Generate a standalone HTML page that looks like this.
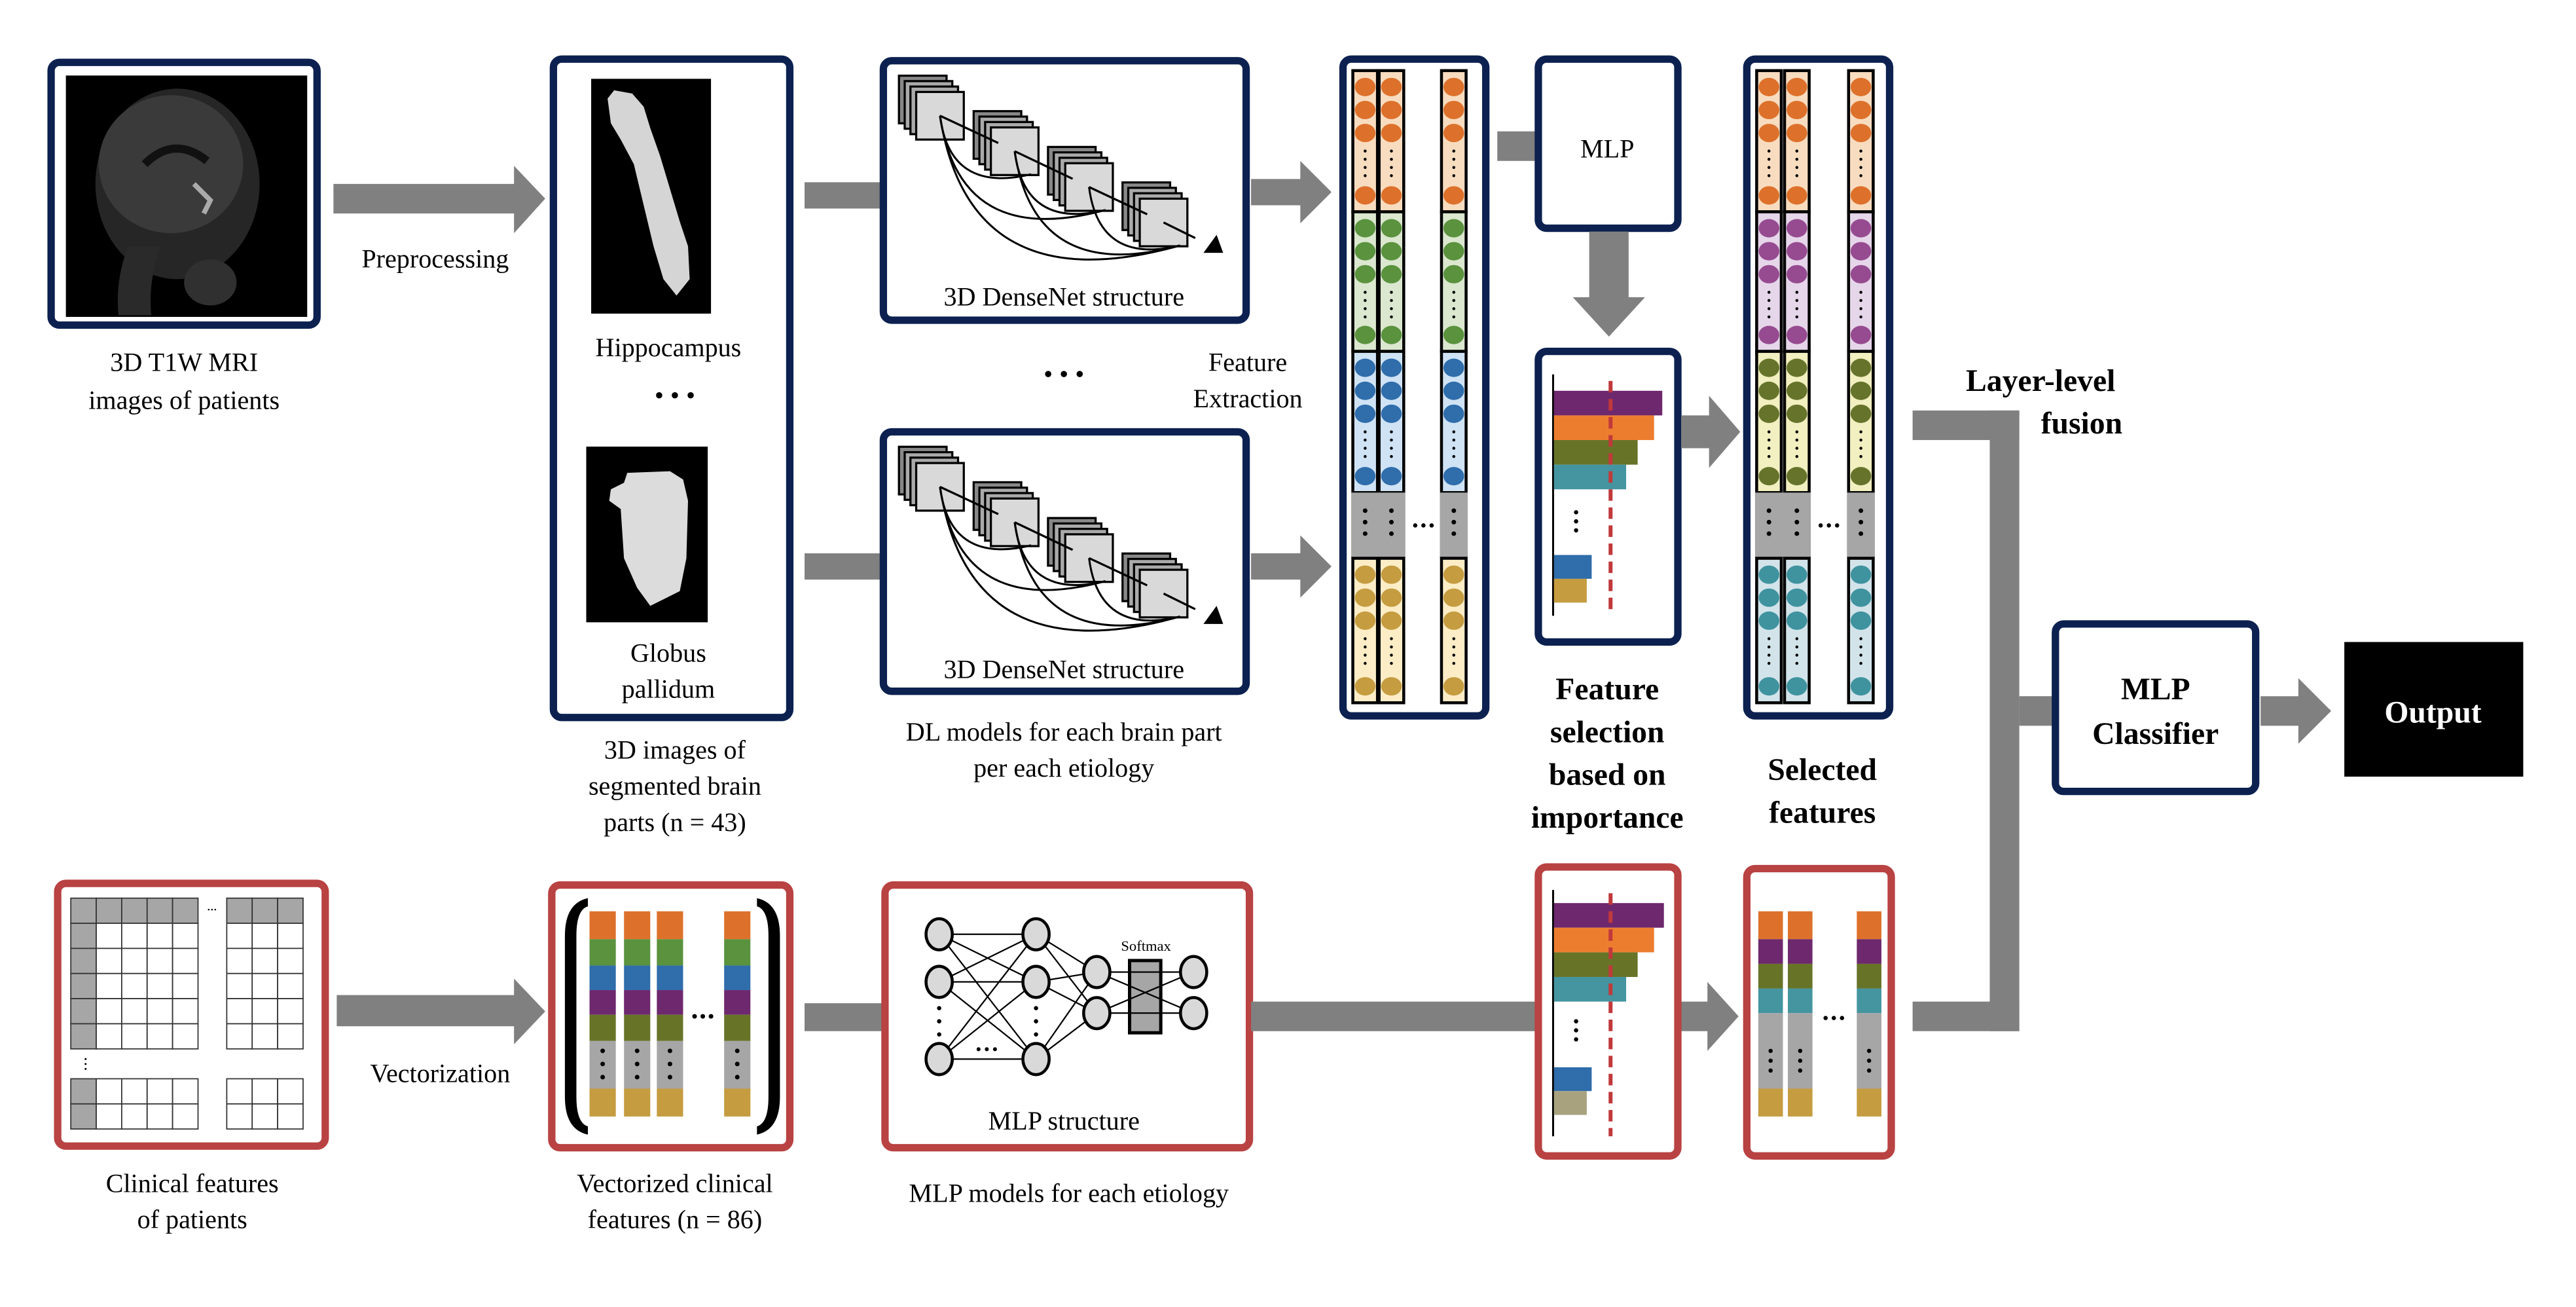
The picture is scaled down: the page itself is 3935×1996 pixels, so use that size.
<!DOCTYPE html>
<html><head><meta charset="utf-8"><style>
html,body{margin:0;padding:0;background:#fff;}
svg{display:block;}
svg text{font-family:"Liberation Serif","Times New Roman","DejaVu Serif",serif;fill:#000;}
.b{font-weight:bold;}
</style></head><body>
<svg id="s" width="3935" height="1996" viewBox="0 0 1569 796" font-family="Liberation Serif, serif" xmlns="http://www.w3.org/2000/svg">
<rect width="1569" height="796" fill="#fff"/>
<!-- MRI box -->
<rect x="31" y="38" width="162" height="160" rx="5" fill="#fff" stroke="#0c2150" stroke-width="4.5"/>
<rect x="40" y="46" width="147" height="147" fill="#000"/>
<ellipse cx="108" cy="112" rx="50" ry="58" fill="#262626"/>
<ellipse cx="104" cy="100" rx="44" ry="42" fill="#3a3a3a"/>
<ellipse cx="128" cy="172" rx="16" ry="14" fill="#303030"/>
<path d="M78 150 Q70 170 72 192 L92 192 Q90 170 98 150Z" fill="#2a2a2a"/>
<path d="M88 100 Q106 82 126 98" stroke="#111" stroke-width="5" fill="none"/>
<path d="M118 112 L128 122 L124 130" stroke="#aaa" stroke-width="3" fill="none"/>
<!-- preprocessing arrow -->
<path d="M203 112 H313 V101 L332 121 L313 142 V130 H203Z" fill="#808080"/>
<text x="265" y="163" font-size="16" text-anchor="middle">Preprocessing</text>
<text x="112" y="226" font-size="16" text-anchor="middle">3D T1W MRI</text>
<text x="112" y="249" font-size="16" text-anchor="middle">images of patients</text>
<!-- segmented -->
<rect x="337" y="36" width="144" height="401" rx="5" fill="#fff" stroke="#0c2150" stroke-width="4.5"/>
<rect x="360" y="48" width="73" height="143" fill="#000"/>
<path d="M370 60 L374 55 L385 57 L392 65 L396 78 L402 95 L408 115 L414 135 L419 150 L420 170 L412 180 L404 170 L398 150 L392 125 L386 100 L378 85 L372 75 Z" fill="#d5d5d5"/>
<text x="407" y="217" font-size="16" text-anchor="middle">Hippocampus</text>
<text x="411" y="246" font-size="16" text-anchor="middle">• • •</text>
<rect x="357" y="272" width="74" height="107" fill="#000"/>
<path d="M372 298 L380 294 L382 288 L408 287 L416 292 L419 305 L418 340 L414 360 L396 369 L388 358 L380 340 L378 310 L371 305 Z" fill="#dcdcdc"/>
<text x="407" y="403" font-size="16" text-anchor="middle">Globus</text>
<text x="407" y="425" font-size="16" text-anchor="middle">pallidum</text>
<text x="411" y="462" font-size="16" text-anchor="middle">3D images of</text>
<text x="411" y="484" font-size="16" text-anchor="middle">segmented brain</text>
<text x="411" y="506" font-size="16" text-anchor="middle">parts (n = 43)</text>
<rect x="490" y="111" width="47" height="16" fill="#808080"/>
<rect x="490" y="337" width="47" height="16" fill="#808080"/>
<g id="dn1"></g>
<text x="648" y="186" font-size="16" text-anchor="middle">3D DenseNet structure</text>
<text x="648" y="413" font-size="16" text-anchor="middle">3D DenseNet structure</text>
<text x="648" y="233" font-size="16" text-anchor="middle">• • •</text>
<text x="760" y="226" font-size="16" text-anchor="middle">Feature</text>
<text x="760" y="248" font-size="16" text-anchor="middle">Extraction</text>
<text x="648" y="451" font-size="16" text-anchor="middle">DL models for each brain part</text>
<text x="648" y="473" font-size="16" text-anchor="middle">per each etiology</text>
<path d="M762 109 H792 V98 L811 117 L792 136 V125 H762Z" fill="#808080"/>
<path d="M762 337 H792 V326 L811 345 L792 364 V353 H762Z" fill="#808080"/>
<rect x="818" y="36" width="87" height="400" rx="5" fill="#fff" stroke="#0c2150" stroke-width="4.5"/>
<rect x="912" y="80" width="26" height="18" fill="#808080"/>
<rect x="937" y="36" width="85" height="103" rx="5" fill="#fff" stroke="#0c2150" stroke-width="4.5"/>
<text x="979" y="96" font-size="16" text-anchor="middle">MLP</text>
<path d="M968 141 H992 V181 H1002 L980 205 L958 181 H968Z" fill="#808080"/>
<rect x="937" y="214" width="85" height="177" rx="5" fill="#fff" stroke="#0c2150" stroke-width="4.5"/>
<path d="M1024 253 H1041 V241 L1060 263 L1041 285 V273 H1024Z" fill="#808080"/>
<text x="979" y="426" font-size="19" class="b" text-anchor="middle">Feature</text>
<text x="979" y="452" font-size="19" class="b" text-anchor="middle">selection</text>
<text x="979" y="478" font-size="19" class="b" text-anchor="middle">based on</text>
<text x="979" y="504" font-size="19" class="b" text-anchor="middle">importance</text>
<rect x="1064" y="36" width="87" height="400" rx="5" fill="#fff" stroke="#0c2150" stroke-width="4.5"/>
<text x="1110" y="475" font-size="19" class="b" text-anchor="middle">Selected</text>
<text x="1110" y="501" font-size="19" class="b" text-anchor="middle">features</text>
<text x="1243" y="238" font-size="19" class="b" text-anchor="middle">Layer-level</text>
<text x="1268" y="264" font-size="19" class="b" text-anchor="middle">fusion</text>
<rect x="1165" y="250" width="65" height="18" fill="#808080"/>
<rect x="1165" y="610" width="65" height="18" fill="#808080"/>
<rect x="1212" y="250" width="18" height="378" fill="#808080"/>
<rect x="1230" y="424" width="22" height="18" fill="#808080"/>
<rect x="1252" y="380" width="122" height="102" rx="5" fill="#fff" stroke="#0c2150" stroke-width="4.5"/>
<text x="1313" y="426" font-size="19" class="b" text-anchor="middle">MLP</text>
<text x="1313" y="453" font-size="19" class="b" text-anchor="middle">Classifier</text>
<path d="M1377 424 H1400 V413 L1420 433 L1400 453 V442 H1377Z" fill="#808080"/>
<rect x="1428" y="391" width="109" height="82" fill="#000"/>
<text x="1482" y="440" font-size="19" class="b" text-anchor="middle" style="fill:#fff">Output</text>
<rect x="35" y="538" width="163" height="160" rx="5" fill="#fff" stroke="#b94242" stroke-width="4.5"/>
<g id="tbl"></g>
<path d="M205 606 H313 V596 L332 616 L313 636 V625 H205Z" fill="#808080"/>
<text x="268" y="659" font-size="16" text-anchor="middle">Vectorization</text>
<text x="117" y="726" font-size="16" text-anchor="middle">Clinical features</text>
<text x="117" y="748" font-size="16" text-anchor="middle">of patients</text>
<rect x="336" y="539" width="145" height="160" rx="5" fill="#fff" stroke="#b94242" stroke-width="4.5"/>
<g id="vec"></g>
<text x="411" y="726" font-size="16" text-anchor="middle">Vectorized clinical</text>
<text x="411" y="748" font-size="16" text-anchor="middle">features (n = 86)</text>
<rect x="490" y="611" width="47" height="17" fill="#808080"/>
<rect x="539" y="539" width="222" height="160" rx="5" fill="#fff" stroke="#b94242" stroke-width="4.5"/>
<g id="mlp"></g>
<text x="648" y="688" font-size="16" text-anchor="middle">MLP structure</text>
<text x="651" y="732" font-size="16" text-anchor="middle">MLP models for each etiology</text>
<path d="M762 610 H1040 V598 L1059 619 L1040 640 V628 H762Z" fill="#808080"/>
<rect x="937" y="528" width="85" height="176" rx="5" fill="#fff" stroke="#b94242" stroke-width="4.5"/>
<rect x="1064" y="529" width="88" height="175" rx="5" fill="#fff" stroke="#b94242" stroke-width="4.5"/>
<g id="g2"></g>
</svg>
<script>
var NS="http://www.w3.org/2000/svg";
function el(p,t,a){var e=document.createElementNS(NS,t);for(var k in a)e.setAttribute(k,a[k]);p.appendChild(e);return e;}
var G=document.getElementById('g2');
function dots(x,y,gap,r,n,c){for(var i=0;i<n;i++)el(G,'circle',{cx:x,cy:y+i*gap,r:r,fill:c||'#000'});}
function featCol(xs,w,secs){
  secs.forEach(function(s){
    if(s.gray){
      el(G,'rect',{x:xs[0]-1,y:s.y0,width:xs[1]+w-xs[0]+2,height:s.y1-s.y0,fill:'#a6a6a6'});
      el(G,'rect',{x:xs[2]-1,y:s.y0,width:w+2,height:s.y1-s.y0,fill:'#a6a6a6'});
      xs.forEach(function(x){dots(x+w/2,s.y0+11,7,1.4,3);});
      dots(xs[1]+w+7,(s.y0+s.y1)/2,0,1.3,1);dots(xs[1]+w+12,(s.y0+s.y1)/2,0,1.3,1);dots(xs[1]+w+17,(s.y0+s.y1)/2,0,1.3,1);
      return;}
    xs.forEach(function(x){
      el(G,'rect',{x:x,y:s.y0,width:w,height:s.y1-s.y0,fill:s.bg,stroke:'#000','stroke-width':1.8});
      var cx=x+w/2;
      [10,24,38].forEach(function(d){el(G,'ellipse',{cx:cx,cy:s.y0+d,rx:6.3,ry:5.6,fill:s.c});});
      el(G,'ellipse',{cx:cx,cy:s.y1-10,rx:6.3,ry:5.6,fill:s.c});
      dots(cx,s.y0+49,5,0.9,4);
    });
  });
}
featCol([824,840,878],15,[{y0:43,y1:129,bg:'#f8dcc0',c:'#dd712b'},{y0:129,y1:214,bg:'#dbe7cf',c:'#5a923e'},{y0:214,y1:300,bg:'#cfe3f5',c:'#2f6dab'},{gray:1,y0:300,y1:340},{y0:340,y1:428,bg:'#fcedc6',c:'#c59c40'}]);
featCol([1070,1087,1126],15,[{y0:43,y1:129,bg:'#f8dcc0',c:'#dd712b'},{y0:129,y1:214,bg:'#e6d6ea',c:'#964b90'},{y0:214,y1:300,bg:'#f2efc0',c:'#66742b'},{gray:1,y0:300,y1:340},{y0:340,y1:428,bg:'#d2e4ea',c:'#3f939f'}]);
function imp(y0,bars,lo,hi,axTop,axBot,dotY,dash0,dash1){
  el(G,'line',{x1:946,y1:axTop,x2:946,y2:axBot,stroke:'#000','stroke-width':1.2});
  var y=y0;bars.forEach(function(b){el(G,'rect',{x:946.5,y:y,width:b[0],height:15,fill:b[1]});y+=15;});
  var y2=lo;hi.forEach(function(b){el(G,'rect',{x:946.5,y:y2,width:b[0],height:14.5,fill:b[1]});y2+=14.5;});
  dots(960,dotY,5.5,1.3,3);
  el(G,'line',{x1:981,y1:dash0,x2:981,y2:dash1,stroke:'#c0393b','stroke-width':2.4,'stroke-dasharray':'7,4'});
}
imp(238,[[66,'#6e286e'],[61,'#ec7d2f'],[51,'#677428'],[44,'#4495a0']],338,[[23,'#2f6dab'],[20,'#c59c40']],228,375,312,232,372);
imp(550,[[67,'#6e286e'],[61,'#ec7d2f'],[51,'#677428'],[44,'#4495a0']],650,[[23,'#2f6dab'],[20,'#a8a37e']],542,692,622,544,692);
[1071,1089,1131].forEach(function(x){
  var cols=[['#dd712b',17],['#6e286e',15],['#677428',15],['#4495a0',15],['#a6a6a6',46],['#c59c40',17]];var y=555;
  cols.forEach(function(c){el(G,'rect',{x:x,y:y,width:15,height:c[1],fill:c[0]});y+=c[1];});
  dots(x+7.5,640,6,1.3,3);
});
dots(1112,620,0,1.3,1);dots(1117,620,0,1.3,1);dots(1122,620,0,1.3,1);
var V=document.getElementById('vec');
[359,380,400,441].forEach(function(x){
  var cols=[['#dd712b',17],['#5a923e',16],['#2f6dab',15],['#6e286e',15],['#677428',16],['#a6a6a6',29],['#c59c40',17]];var y=555;
  cols.forEach(function(c){el(V,'rect',{x:x,y:y,width:16,height:c[1],fill:c[0]});y+=c[1];});
  for(var i=0;i<3;i++)el(V,'circle',{cx:x+8,cy:640+i*8,r:1.4,fill:'#000'});
});
[423,428,433].forEach(function(x){el(V,'circle',{cx:x,cy:619,r:1.4,fill:'#000'});});
el(V,'path',{d:'M358 547 Q344 550 344 570 V668 Q344 688 358 691 L358 686 Q351 684 351 668 V570 Q351 554 358 552 Z',fill:'#000'});
el(V,'path',{d:'M461 547 Q475 550 475 570 V668 Q475 688 461 691 L461 686 Q468 684 468 668 V570 Q468 554 461 552 Z',fill:'#000'});
var T=document.getElementById('tbl');
function block(x0,ncol,y0,rows,hdr,firstGray){
  var cw=15.5,rh=15.3;
  for(var r=0;r<rows;r++)for(var c=0;c<ncol;c++){
    var gray=(hdr&&r==0)||(firstGray&&c==0);
    el(T,'rect',{x:x0+c*cw,y:y0+r*rh,width:cw,height:rh,fill:gray?'#a6a6a6':'#fff',stroke:'#333','stroke-width':0.7});
  }
}
block(43,5,547,6,true,true);block(138,3,547,6,true,false);
block(43,5,657,2,false,true);block(138,3,657,2,false,false);
[645,648,651].forEach(function(y){el(T,'circle',{cx:52,cy:y,r:0.6,fill:'#000'});});
[127,129,131].forEach(function(x){el(T,'circle',{cx:x,cy:554,r:0.5,fill:'#000'});});
var M=document.getElementById('mlp');
var L1=[[572,569],[572,598],[572,645]],L2=[[631,569],[631,598],[631,645]],L3=[[668,592],[668,617]],L4=[[727,592],[727,617]];
L1.forEach(function(a){L2.forEach(function(b){el(M,'line',{x1:a[0],y1:a[1],x2:b[0],y2:b[1],stroke:'#000','stroke-width':0.9});});});
L2.forEach(function(a){L3.forEach(function(b){el(M,'line',{x1:a[0],y1:a[1],x2:b[0],y2:b[1],stroke:'#000','stroke-width':0.9});});});
el(M,'rect',{x:688,y:585,width:19,height:44,fill:'#a6a6a6',stroke:'#000','stroke-width':2});
L3.forEach(function(a){L4.forEach(function(b){el(M,'line',{x1:a[0],y1:a[1],x2:b[0],y2:b[1],stroke:'#000','stroke-width':0.9});});});
L1.concat(L2,L3,L4).forEach(function(p){el(M,'ellipse',{cx:p[0],cy:p[1],rx:8,ry:9.5,fill:'#d9d9d9',stroke:'#000','stroke-width':1.8});});
[572,631].forEach(function(x){[614,622,630].forEach(function(y){el(M,'circle',{cx:x,cy:y,r:1.3,fill:'#000'});});});
[596,601,606].forEach(function(x){el(M,'circle',{cx:x,cy:639,r:1.2,fill:'#000'});});
var st=el(M,'text',{x:698,y:579,'font-size':9,'text-anchor':'middle'});st.textContent='Softmax';
var D=document.getElementById('dn1');
function dense(oy){
  el(D,'rect',{x:538,y:37+oy,width:221,height:158,rx:5,fill:'#fff',stroke:'#0c2150','stroke-width':4.5});
  var fr=[[558,56],[603.5,77.6],[648.8,99.4],[694.2,121]];
  var cent=[];
  fr.forEach(function(f){
    for(var i=3;i>=0;i--){var x=f[0]-i*3.5,y=f[1]+oy-i*3.3;
      el(D,'rect',{x:x,y:y,width:29,height:29,fill:i==0?'#d9d9d9':(i==3?'#888':'#aaa'),stroke:'#000','stroke-width':1.3});}
    cent.push([f[0]+14.5,f[1]+oy+14.5]);
  });
  for(var a=0;a<4;a++){
    var c=cent[a];
    var nx=a<3?cent[a+1]:[738,150+oy];
    el(D,'line',{x1:c[0],y1:c[1],x2:nx[0]-10,y2:nx[1]-5,stroke:'#000','stroke-width':1.3});
    for(var b=a+1;b<4;b++){
      var t=cent[b];var tx=t[0]+10,ty=t[1]+14;
      el(D,'path',{d:'M'+c[0]+' '+c[1]+' Q'+(c[0]+(b-a)*6)+' '+(ty+(b-a)*12)+' '+tx+' '+ty,stroke:'#000','stroke-width':1.2,fill:'none'});
    }
  }
  el(D,'path',{d:'M745 154 L733 154 L741 143 Z',fill:'#000',transform:'translate(0,'+oy+')'});
}
dense(0);dense(226);
</script>
</body></html>
